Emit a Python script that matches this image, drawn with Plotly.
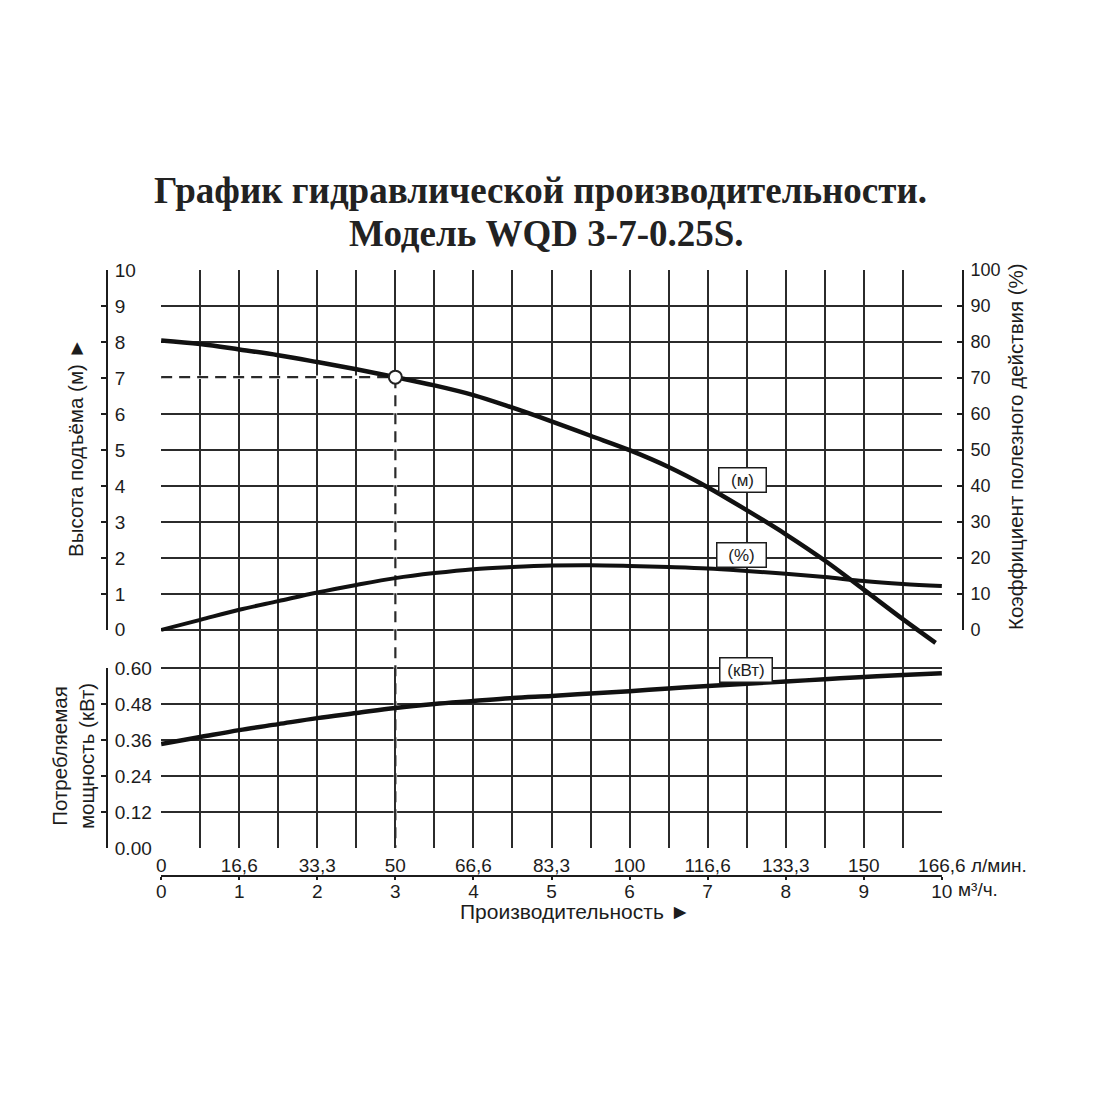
import plotly.graph_objects as go

# ---------------- data ----------------
Q_HEAD = [0, 0.5, 1, 1.5, 2, 2.5, 3, 3.5, 4, 4.5, 5, 5.5, 6, 6.5, 7, 7.5, 8, 8.5, 9, 9.5, 9.92]
HEAD_M = [8.05, 7.95, 7.8, 7.64, 7.45, 7.25, 7.03, 6.8, 6.53, 6.18, 5.8, 5.4, 5.0, 4.53, 3.97, 3.33, 2.66, 1.93, 1.12, 0.3, -0.36]

Q = [0, 0.5, 1, 1.5, 2, 2.5, 3, 3.5, 4, 4.5, 5, 5.5, 6, 6.5, 7, 7.5, 8, 8.5, 9, 9.5, 10]
EFF_PCT = [0, 2.8, 5.6, 8.0, 10.4, 12.5, 14.4, 15.8, 16.9, 17.5, 17.9, 18.0, 17.8, 17.5, 17.1, 16.4, 15.6, 14.7, 13.6, 12.8, 12.2]
POWER_KW = [0.347, 0.37, 0.393, 0.413, 0.433, 0.45, 0.467, 0.48, 0.49, 0.5, 0.507, 0.515, 0.523, 0.532,
            0.54, 0.548, 0.555, 0.563, 0.57, 0.577, 0.583]

OP_Q = 3
OP_H = 7.03

M3H_TICKS = [0, 1, 2, 3, 4, 5, 6, 7, 8, 9, 10]
M3H_LABELS = ["0", "1", "2", "3", "4", "5", "6", "7", "8", "9", "10"]
LMIN_LABELS = ["0", "16,6", "33,3", "50", "66,6", "83,3", "100", "116,6", "133,3", "150", "166,6"]
HEAD_TICKS = [0, 1, 2, 3, 4, 5, 6, 7, 8, 9, 10]
EFF_TICKS = [0, 10, 20, 30, 40, 50, 60, 70, 80, 90, 100]
POWER_TICKS = [0.0, 0.12, 0.24, 0.36, 0.48, 0.60]
POWER_MAX = 0.60

TITLE_1 = "График гидравлической производительности."
TITLE_2 = "Модель WQD 3-7-0.25S."

# ---------------- layout geometry ----------------
W = H = 1100
OFF = 8  # page offset of the figure inside the browser window
ML, MR, MT, MB = 90, 90, 250, 210
PW = W - ML - MR
PH = H - MT - MB


def fx(px):
    return (px - OFF - ML) / PW


def fy(py):
    return (MT + PH - (py - OFF)) / PH


GRID_L, GRID_R = 161, 942
GRID_TOP, HEAD_ZERO, PWR_TOP, GRID_BOT = 270, 630, 668, 848
XLINE = 876

head_dom = [fy(HEAD_ZERO), fy(GRID_TOP)]
pwr_dom = [fy(GRID_BOT), fy(PWR_TOP)]
base_dom = [fy(GRID_BOT), fy(GRID_TOP)]
unit = (head_dom[1] - head_dom[0]) / 10.0
B0 = (base_dom[0] - head_dom[0]) / unit          # base-axis value at bottom of grid
B_PTOP = (pwr_dom[1] - head_dom[0]) / unit       # base-axis value at power 0.60
BASE_RANGE = [B0 - 0.01, 10.01]
EFF_BASE_RANGE = [BASE_RANGE[0] * 10, BASE_RANGE[1] * 10]
# horizontal grid positions on the base axis
GRID_VALS = HEAD_TICKS + [B0 + p / POWER_MAX * (B_PTOP - B0) for p in POWER_TICKS]

INK = "#1c1c1c"
GRID = "#2b2b2b"
FONT = "Liberation Sans"

fig = go.Figure()

# dummy traces registering the tick-label axes on their own (grid-less) x axis
for xa, ya in [("x4", "y2"), ("x4", "y3"), ("x4", "y4"), ("x2", "y"), ("x3", "y")]:
    fig.add_trace(go.Scatter(x=[], y=[], xaxis=xa, yaxis=ya, showlegend=False, hoverinfo="skip"))

# dashed operating lines (white underlay breaks the grid line, like the original)
for col, w, dash in [("white", 3.5, "solid"), ("#2a2a2a", 2.2, "11px,7px")]:
    fig.add_trace(go.Scatter(x=[0, OP_Q], y=[OP_H, OP_H], mode="lines", xaxis="x", yaxis="y",
                             line=dict(color=col, width=w, dash=dash), showlegend=False, hoverinfo="skip"))
    fig.add_trace(go.Scatter(x=[OP_Q, OP_Q], y=[OP_H, B0], mode="lines", xaxis="x", yaxis="y",
                             line=dict(color=col, width=w, dash=dash), showlegend=False, hoverinfo="skip"))

fig.add_trace(go.Scatter(x=Q_HEAD, y=HEAD_M, mode="lines", xaxis="x", yaxis="y",
                         line=dict(color="#111111", width=4.5, shape="spline", smoothing=1.0),
                         showlegend=False, name="(м)"))
fig.add_trace(go.Scatter(x=Q, y=EFF_PCT, mode="lines", xaxis="x", yaxis="y5",
                         line=dict(color="#111111", width=4, shape="spline", smoothing=1.0),
                         showlegend=False, name="(%)"))
fig.add_trace(go.Scatter(x=Q, y=POWER_KW, mode="lines", xaxis="x", yaxis="y3",
                         line=dict(color="#111111", width=4.5, shape="spline", smoothing=1.0),
                         showlegend=False, name="(кВт)"))
fig.add_trace(go.Scatter(x=[OP_Q], y=[OP_H], mode="markers", xaxis="x", yaxis="y",
                         marker=dict(size=13, color="white", line=dict(color="#222222", width=2)),
                         showlegend=False, cliponaxis=False))

tick_l = dict(family=FONT, size=19, color=INK)
tick_r = dict(family=FONT, size=18, color=INK)
tick_b = dict(family=FONT, size=19, color=INK)

label_axis = dict(showline=True, linecolor=INK, linewidth=2, ticks="inside", ticklen=5, tickwidth=2,
                  tickcolor=INK, showgrid=False, zeroline=False, ticklabelstandoff=3,
                  anchor="free", side="right")

fig.update_layout(
    width=W, height=H,
    margin=dict(l=ML, r=MR, t=MT, b=MB),
    paper_bgcolor="white", plot_bgcolor="rgba(0,0,0,0)",
    showlegend=False,
    xaxis=dict(domain=[fx(GRID_L), fx(GRID_R)], range=[-0.002, 10.002], anchor="y",
               dtick=0.5, tick0=0, showgrid=True, gridcolor=GRID, gridwidth=2,
               showticklabels=False, ticks="", showline=False, zeroline=False),
    xaxis2=dict(overlaying="x", anchor="free", position=fy(XLINE), side="bottom",
                range=[-0.002, 10.002], tickvals=M3H_TICKS, ticktext=M3H_LABELS,
                showline=True, linecolor=INK, linewidth=2, ticks="outside", ticklen=3,
                tickwidth=2, tickcolor=INK, showgrid=False, zeroline=False, tickfont=tick_b,
                ticklabelstandoff=-5),
    xaxis3=dict(overlaying="x", anchor="free", position=fy(XLINE), side="top",
                range=[-0.002, 10.002], tickvals=M3H_TICKS, ticktext=LMIN_LABELS,
                showline=False, ticks="", showgrid=False, zeroline=False, tickfont=tick_b),
    xaxis4=dict(domain=[fx(GRID_L), fx(GRID_R)], range=[-0.002, 10.002], anchor="free", position=0,
                showgrid=False, showticklabels=False, ticks="", showline=False, zeroline=False),
    yaxis=dict(domain=base_dom, range=BASE_RANGE, anchor="x", tickvals=GRID_VALS,
               showgrid=True, gridcolor=GRID, gridwidth=2,
               showticklabels=False, ticks="", showline=False, zeroline=False),
    yaxis2=dict(domain=head_dom, range=[-0.005, 10.005], position=fx(107),
                tickvals=HEAD_TICKS, tickfont=tick_l, **label_axis),
    yaxis3=dict(domain=pwr_dom, range=[-0.0003, 0.6003], position=fx(107),
                tickvals=POWER_TICKS, tickformat=".2f", tickfont=tick_l, **label_axis),
    yaxis4=dict(domain=head_dom, range=[-0.05, 100.05], position=fx(963),
                tickvals=EFF_TICKS, tickfont=tick_r, **label_axis),
    yaxis5=dict(overlaying="y", range=EFF_BASE_RANGE, visible=False),
)

ann_font = dict(family=FONT, size=20.5, color=INK)
title_font = dict(family="Liberation Serif", size=37, color="#222222", weight="bold")
box_font = dict(family=FONT, size=17, color=INK)
annotations = [
    dict(text=TITLE_1, xref="paper", yref="paper", x=fx(540), y=fy(190),
         xanchor="center", yanchor="middle", showarrow=False, font=title_font),
    dict(text=TITLE_2, xref="paper", yref="paper", x=fx(546), y=fy(234),
         xanchor="center", yanchor="middle", showarrow=False, font=title_font),
    dict(text="Высота подъёма (м) ►", textangle=-90, xref="paper", yref="paper",
         x=fx(75), y=fy(448), xanchor="center", yanchor="middle", showarrow=False, font=ann_font),
    dict(text="Потребляемая<br>мощность (кВт)", textangle=-90, xref="paper", yref="paper",
         x=fx(73), y=fy(756), xanchor="center", yanchor="middle", showarrow=False, font=ann_font),
    dict(text="Коэффициент полезного действия (%)", textangle=-90, xref="paper", yref="paper",
         x=fx(1015), y=fy(447), xanchor="center", yanchor="middle", showarrow=False, font=ann_font),
    dict(text="Производительность ►", xref="paper", yref="paper",
         x=fx(575), y=fy(911), xanchor="center", yanchor="middle", showarrow=False,
         font=dict(family=FONT, size=21, color=INK)),
    dict(text="л/мин.", xref="paper", yref="paper",
         x=fx(969), y=fy(865), xanchor="left", yanchor="middle", showarrow=False, font=tick_b),
    dict(text="м³/ч.", xref="paper", yref="paper",
         x=fx(956), y=fy(889), xanchor="left", yanchor="middle", showarrow=False, font=tick_b),
    dict(text="(м)", xref="x", yref="y2", x=7.45, y=4.17, showarrow=False, font=box_font,
         bgcolor="white", bordercolor=INK, borderwidth=1.5, borderpad=1, width=44, height=21),
    dict(text="(%)", xref="x", yref="y4", x=7.43, y=20.8, showarrow=False, font=box_font,
         bgcolor="white", bordercolor=INK, borderwidth=1.5, borderpad=1, width=46, height=21),
    dict(text="(кВт)", xref="x", yref="y3", x=7.49, y=0.592, showarrow=False, font=box_font,
         bgcolor="white", bordercolor=INK, borderwidth=1.5, borderpad=1, width=49, height=21),
]
fig.update_layout(annotations=annotations)

fig.write_html("out.html")
